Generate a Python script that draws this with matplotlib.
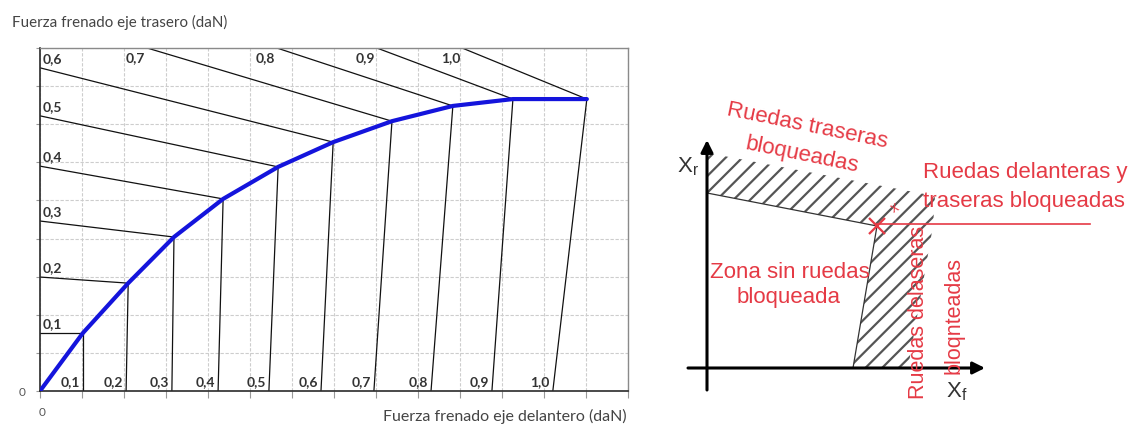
import matplotlib
matplotlib.use("Agg")
import matplotlib.pyplot as plt
from matplotlib.patches import Polygon

W, H = 1132, 428

# ---------------- data (left chart, grid units) ----------------
mu_labels = ["0,1", "0,2", "0,3", "0,4", "0,5", "0,6", "0,7", "0,8", "0,9", "1,0"]
# points of the ideal braking curve for each adhesion coefficient
curve_x = [1.02, 2.10, 3.19, 4.36, 5.67, 6.98, 8.38, 9.83, 11.26, 13.02]
curve_y = [1.52, 2.83, 4.04, 5.04, 5.88, 6.53, 7.08, 7.48, 7.66, 7.66]
# front-axle locking lines: start on the horizontal axis
front_start_x = [1.02, 2.05, 3.14, 4.24, 5.45, 6.69, 7.95, 9.31, 10.76, 12.21]
# rear-axle locking lines: start on left axis or on top border
rear_start_x = [0, 0, 0, 0, 0, 0, 2.55, 5.64, 8.02, 10.05]
rear_start_y = [1.52, 2.99, 4.46, 5.90, 7.22, 8.48, 9.0, 9.0, 9.0, 9.0]
x_max, y_max = 14, 9

y_title = "Fuerza frenado eje trasero (daN)"
x_title = "Fuerza frenado eje delantero (daN)"

# ---------------- data (right schematic) ----------------
zone_poly_x = [1, 228, 226, 201, 146, 170, 1]
zone_poly_y = [215, 172, 142, 0, 0, 142, 175]
rear_limit_x = [0, 170]
rear_limit_y = [175, 142]
front_limit_x = [170, 146]
front_limit_y = [142, 0]
red_line_x = [170, 383]
red_line_y = [144, 144]
xr_axis_y = [-22, 228]
xf_axis_x = [-19, 278]

RED = "#e53a45"

fig = plt.figure(figsize=(W / 100, H / 100), dpi=100)

# ---------------- left chart ----------------
ax1 = fig.add_axes([40 / W, (H - 391) / H, 588 / W, 343 / H])
ax1.set_xlim(0, x_max)
ax1.set_ylim(0, y_max)
ax1.set_xticks(range(x_max + 1))
ax1.set_yticks(range(y_max + 1))
ax1.set_xticklabels([])
ax1.set_yticklabels([])
ax1.tick_params(axis="x", direction="out", length=5, width=0.8, color="#999999")
ax1.tick_params(axis="y", direction="out", length=3, width=0.8, color="#999999")
ax1.grid(True, color="#cdcdcd", lw=0.8, ls=(0, (3, 1.5)), zorder=0)
for side in ["top", "right"]:
    ax1.spines[side].set_color("#8a8a8a")
    ax1.spines[side].set_linewidth(1.0)
for side in ["bottom", "left"]:
    ax1.spines[side].set_color("#2a2a2a")
    ax1.spines[side].set_linewidth(1.2)

lab_kw = dict(fontsize=10, fontweight="bold", color="#333333", family="Lato",
              textcoords="offset pixels")
for i, lab in enumerate(mu_labels):
    ax1.plot([rear_start_x[i], curve_x[i]], [rear_start_y[i], curve_y[i]],
             color="#111111", lw=0.9, zorder=2)
    ax1.plot([front_start_x[i], curve_x[i]], [0, curve_y[i]],
             color="#111111", lw=0.9, zorder=2)
    # front labels along the bottom
    ax1.annotate(lab, (front_start_x[i], 0), xytext=(-3, 9), ha="right", va="center", **lab_kw)
    # rear labels
    if rear_start_x[i] == 0:
        ax1.annotate(lab, (0, rear_start_y[i]), xytext=(3, 9), ha="left", va="center", **lab_kw)
    else:
        ax1.annotate(lab, (rear_start_x[i], rear_start_y[i]), xytext=(-2, -10),
                     ha="right", va="center", **lab_kw)

ax1.plot([0] + curve_x, [0] + curve_y, color="#1414dc", lw=3.0, zorder=3,
         solid_joinstyle="round", solid_capstyle="round")

ax1.annotate("0", (0, 0), xytext=(-18, -1), textcoords="offset pixels", ha="center",
             va="center", fontsize=8.5, color="#555555", family="Lato")
ax1.annotate("0", (0, 0), xytext=(2, -22), textcoords="offset pixels", ha="center",
             va="center", fontsize=8.5, color="#555555", family="Lato")

fig.text(12 / W, 1 - 22 / H, y_title, ha="left", va="center", fontsize=10.9,
         color="#444444", family="Lato")
fig.text(627 / W, 1 - 416 / H, x_title, ha="right", va="center", fontsize=11.5,
         color="#444444", family="Lato")

# ---------------- right schematic ----------------
plt.rcParams["hatch.linewidth"] = 1.6
plt.rcParams["hatch.color"] = "#555555"
ax2 = fig.add_axes([640 / W, 0, 492 / W, 1])
ax2.set_xlim(-67, 425)
ax2.set_ylim(-60, 368)
ax2.axis("off")

ax2.add_patch(Polygon(list(zip(zone_poly_x, zone_poly_y)), closed=True,
                      facecolor="none", edgecolor="#555555", hatch="//", lw=0))
ax2.plot(rear_limit_x, rear_limit_y, color="#333333", lw=0.9)
ax2.plot(front_limit_x, front_limit_y, color="#333333", lw=0.9)

arrow = dict(arrowstyle="-|>", lw=2.2, color="black", mutation_scale=18,
             shrinkA=0, shrinkB=0)
ax2.annotate("", xy=(0, xr_axis_y[1]), xytext=(0, xr_axis_y[0]), arrowprops=arrow)
ax2.annotate("", xy=(xf_axis_x[1], 0), xytext=(xf_axis_x[0], 0), arrowprops=arrow)

ax2.text(-19, 201, r"$\mathregular{X_r}$", fontsize=16, color="#333333",
         family="Liberation Sans", ha="center", va="center")
ax2.text(250, -24, r"$\mathregular{X_f}$", fontsize=16, color="#333333",
         family="Liberation Sans", ha="center", va="center")

ax2.plot(red_line_x, red_line_y, color=RED, lw=1.2)
ax2.plot([170], [142], marker="x", color=RED, markersize=11, mew=1.6)
ax2.text(188, 160, "x", color=RED, fontsize=10, rotation=30, ha="center", va="center",
         family="Liberation Sans")

tkw = dict(color=RED, fontsize=16, family="Liberation Sans", ha="center", va="center",
           rotation_mode="anchor")
ax2.text(100, 242, "Ruedas traseras", rotation=-11.5, **tkw)
ax2.text(95, 213, "bloqueadas", rotation=-11.5, **tkw)
ax2.text(216, 196, "Ruedas delanteras y", color=RED, fontsize=16,
         family="Liberation Sans", ha="left", va="center")
ax2.text(216, 167, "traseras bloqueadas", color=RED, fontsize=16,
         family="Liberation Sans", ha="left", va="center")
ax2.text(83, 96, "Zona sin ruedas", **tkw)
ax2.text(82, 70, "bloqueada", **tkw)
vkw = dict(tkw, fontsize=15.5)
ax2.text(211, 56, "Ruedas delaseras", rotation=90, **vkw)
ax2.text(247, 52, "bloqnteadas", rotation=90, **vkw)

fig.savefig("out.png", dpi=100)
